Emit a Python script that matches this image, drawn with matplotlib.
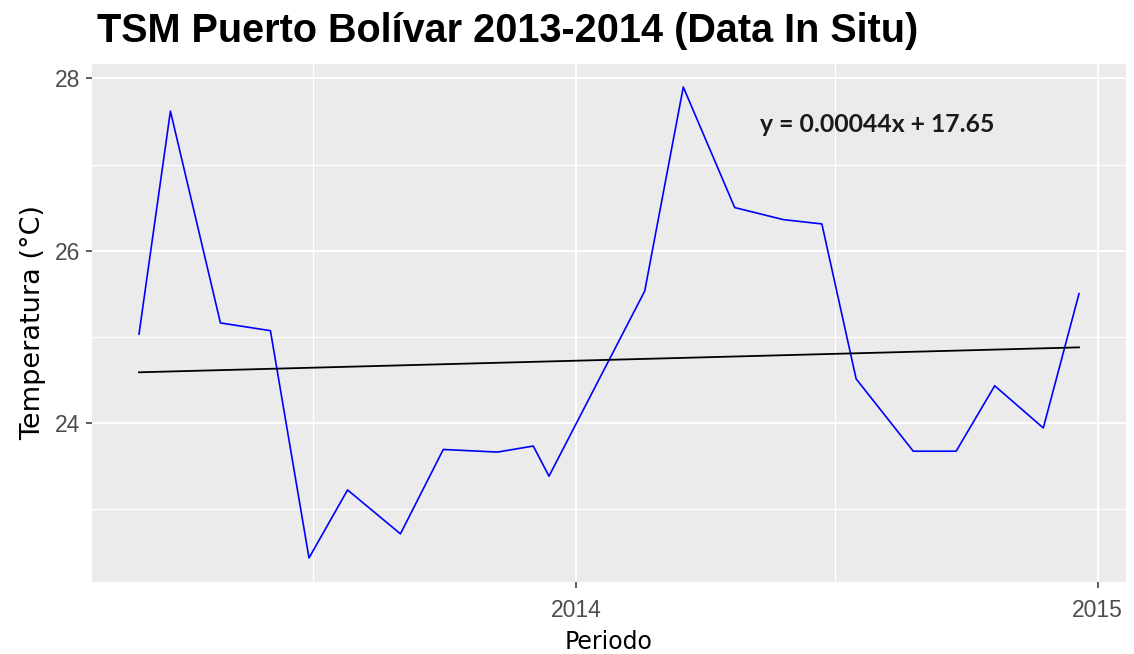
import numpy as np
import matplotlib
matplotlib.use("Agg")
import matplotlib.pyplot as plt
import matplotlib.dates as mdates

# sampling dates and sea surface temperature
fechas = ["2013-03-01", "2013-03-23", "2013-04-27", "2013-06-01", "2013-06-28",
          "2013-07-25", "2013-08-31", "2013-09-30", "2013-11-07", "2013-12-02",
          "2013-12-13", "2014-02-18", "2014-03-17", "2014-04-22", "2014-05-26",
          "2014-06-22", "2014-07-16", "2014-08-25", "2014-09-24", "2014-10-21",
          "2014-11-24", "2014-12-19"]
tsm = [25.03, 27.62, 25.16, 25.07, 22.43,
       23.22, 22.71, 23.69, 23.66, 23.73,
       23.38, 25.53, 27.90, 26.50, 26.36,
       26.31, 24.51, 23.67, 23.67, 24.43,
       23.94, 25.50]

# linear trend as printed on the chart (x = days since 1970-01-01)
pendiente = 0.00044
intercepto = 17.65
ecuacion = "y = 0.00044x + 17.65"

x = np.array(fechas, dtype="datetime64[D]")
dias = x.astype(int)
ajuste = pendiente * dias + intercepto
xd = mdates.date2num(x)
y = np.array(tsm)

fig = plt.figure(figsize=(11.34, 6.54), dpi=100)
ax = fig.add_axes([92 / 1134, 72.5 / 654, 1034 / 1134, 518 / 654])
ax.set_facecolor("#EBEBEB")

# ggplot-like 5% expansion
xr = xd.max() - xd.min()
yr = y.max() - y.min()
ax.set_xlim(xd.min() - 0.05 * xr, xd.max() + 0.05 * xr)
ax.set_ylim(y.min() - 0.05 * yr, y.max() + 0.05 * yr)

# grid
mayores_x = mdates.date2num(np.array(["2014-01-01", "2015-01-01"], dtype="datetime64[D]"))
menores_x = mdates.date2num(np.array(["2013-07-01", "2014-07-01"], dtype="datetime64[D]"))
for v in mayores_x:
    ax.axvline(v, color="white", lw=1.4, zorder=0)
for v in menores_x:
    ax.axvline(v, color="white", lw=0.8, zorder=0)
for v in [24, 26, 28]:
    ax.axhline(v, color="white", lw=1.4, zorder=0)
for v in [23, 25, 27]:
    ax.axhline(v, color="white", lw=0.8, zorder=0)

ax.plot(xd, y, color="blue", lw=1.2, zorder=2)
ax.plot(xd, ajuste, color="black", lw=1.3, zorder=2)

pos_txt = mdates.date2num(np.datetime64("2014-07-31"))
ax.text(pos_txt, 27.47, ecuacion, ha="center", va="center", fontsize=17.8,
        fontweight="bold", family="Lato", color="#1a1a1a")

ax.set_xticks(mayores_x)
ax.set_xticklabels(["2014", "2015"])
ax.set_yticks([24, 26, 28])
ax.tick_params(axis="both", colors="#333333", length=4.2, width=1.1,
               labelsize=16.5, labelcolor="#4D4D4D")
ax.tick_params(axis="x", pad=8.5)
ax.tick_params(axis="y", pad=4.6)
for s in ax.spines.values():
    s.set_visible(False)

ax.set_xlabel("Periodo", fontsize=17, family="DejaVu Sans", labelpad=5.5)
ax.set_ylabel("Temperatura (°C)", fontsize=19.5, family="DejaVu Sans", labelpad=6)
for lab in ax.get_xticklabels() + ax.get_yticklabels():
    lab.set_family("Liberation Sans")

fig.text(97 / 1134, 1 - 31 / 654, "TSM Puerto Bolívar 2013-2014 (Data In Situ)",
         fontsize=28.5, fontweight="bold", family="Liberation Sans",
         ha="left", va="center")

fig.savefig("out.png", dpi=100)
